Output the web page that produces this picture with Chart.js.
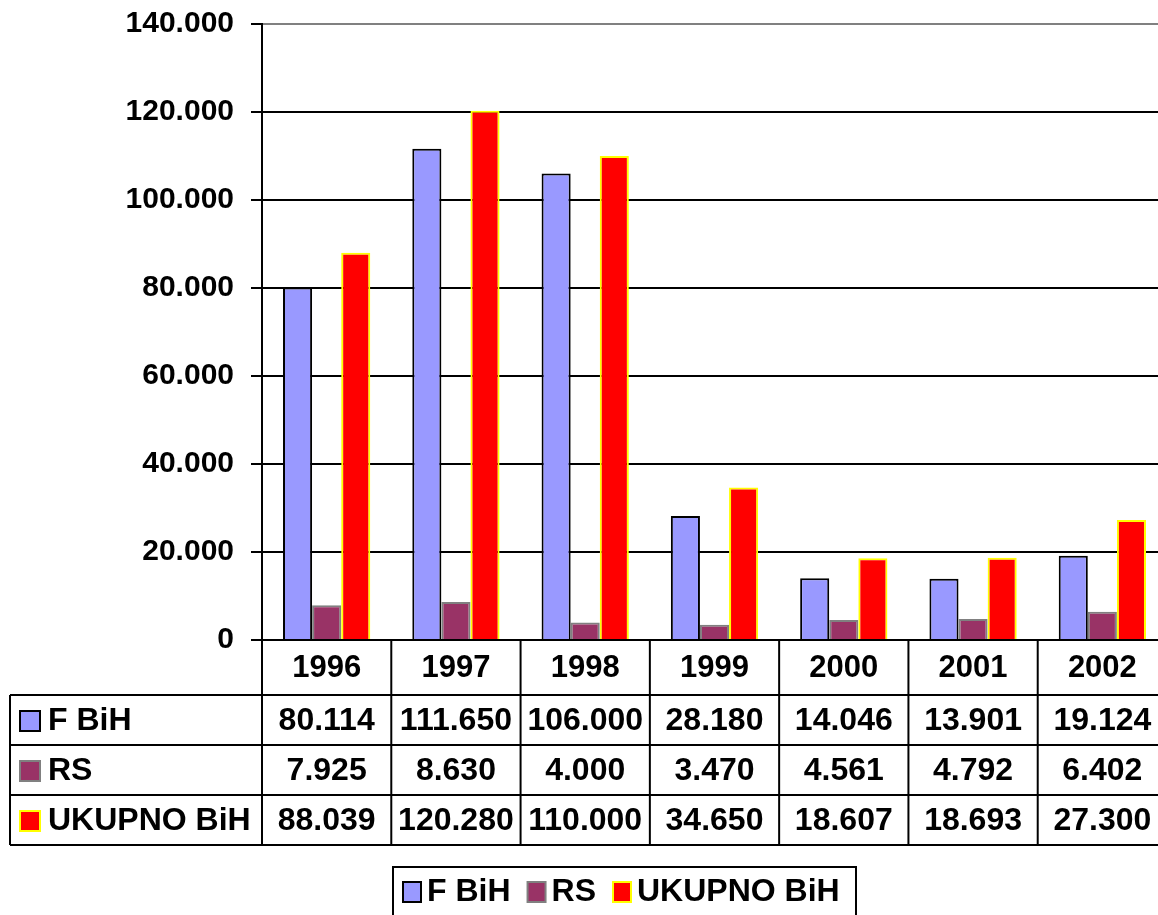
<!DOCTYPE html>
<html>
<head>
<meta charset="utf-8">
<script src="https://cdn.jsdelivr.net/npm/chart.js@4.4.1/dist/chart.umd.min.js"></script>
<style>
  html, body { margin: 0; padding: 0; background: #fff; overflow: hidden; }
  canvas { display: block; }
</style>
</head>
<body>
<canvas id="c" width="1170" height="915"></canvas>
<script>
// --- data ---
const years = ['1996', '1997', '1998', '1999', '2000', '2001', '2002'];
const fbih = [80114, 111650, 106000, 28180, 14046, 13901, 19124];
const rs = [7925, 8630, 4000, 3470, 4561, 4792, 6402];
const ukupno = [88039, 120280, 110000, 34650, 18607, 18693, 27300];
const seriesNames = ['F BiH', 'RS', 'UKUPNO BiH'];

const FONT = "'Liberation Sans', Arial, sans-serif";
const fmt = v => String(v).replace(/\B(?=(\d{3})+(?!\d))/g, '.');

// data table + legend under the plot
const tablePlugin = {
  id: 'dataTable',
  afterDraw(chart) {
    const ctx = chart.ctx;
    const x = chart.scales.x;
    const area = chart.chartArea;
    const colW = (area.right - area.left) / years.length;
    const rows = [695, 745, 795, 845];
    const right = chart.width;

    ctx.save();
    ctx.strokeStyle = '#000';
    ctx.lineWidth = 2;
    // horizontal lines
    rows.forEach(y => {
      ctx.beginPath(); ctx.moveTo(10, y); ctx.lineTo(right, y); ctx.stroke();
    });
    // left border
    ctx.beginPath(); ctx.moveTo(10, rows[0]); ctx.lineTo(10, rows[3]); ctx.stroke();
    // column lines
    for (let i = 0; i <= years.length; i++) {
      const cx = x.getPixelForValue(0) - colW / 2 + i * colW;
      ctx.beginPath(); ctx.moveTo(cx, area.bottom); ctx.lineTo(cx, rows[3]); ctx.stroke();
    }

    ctx.font = 'bold 31px ' + FONT;
    ctx.fillStyle = '#000';
    ctx.textAlign = 'center';
    ctx.textBaseline = 'middle';
    years.forEach((yr, i) => ctx.fillText(yr, x.getPixelForValue(i), 668));

    ctx.font = 'bold 32px ' + FONT;
    chart.data.datasets.forEach((ds, r) => {
      const cy = (rows[r] + rows[r + 1]) / 2 + 1;
      // key
      ctx.fillStyle = ds.backgroundColor;
      ctx.fillRect(20, cy - 10, 20, 20);
      ctx.strokeStyle = ds.borderColor;
      ctx.strokeRect(20, cy - 10, 20, 20);
      ctx.fillStyle = '#000';
      ctx.textAlign = 'left';
      ctx.fillText(ds.label, 48, cy);
      ctx.textAlign = 'center';
      ds.data.forEach((v, i) => ctx.fillText(fmt(v), x.getPixelForValue(i), cy));
    });

    // legend box
    ctx.strokeStyle = '#000';
    ctx.strokeRect(393, 867, 463, 60);
    let lx = 403;
    const ly = 892;
    chart.data.datasets.forEach(ds => {
      ctx.fillStyle = ds.backgroundColor;
      ctx.fillRect(lx, ly - 10, 18, 20);
      ctx.strokeStyle = ds.borderColor;
      ctx.strokeRect(lx, ly - 10, 18, 20);
      ctx.fillStyle = '#000';
      ctx.textAlign = 'left';
      ctx.fillText(ds.label, lx + 24, ly);
      lx += 24 + ctx.measureText(ds.label).width + 17;
    });
    ctx.restore();
  }
};

new Chart(document.getElementById('c'), {
  type: 'bar',
  data: {
    labels: years,
    datasets: [
      { label: seriesNames[0], data: fbih, backgroundColor: '#9999FF', borderColor: '#000000', borderWidth: 2 },
      { label: seriesNames[1], data: rs, backgroundColor: '#993366', borderColor: '#808080', borderWidth: 2 },
      { label: seriesNames[2], data: ukupno, backgroundColor: '#FF0000', borderColor: '#FFFF00', borderWidth: 2 }
    ]
  },
  options: {
    responsive: false,
    animation: false,
    devicePixelRatio: 1,
    layout: { padding: { left: 0, top: 24, right: 3, bottom: 275 } },
    datasets: { bar: { categoryPercentage: 0.675, barPercentage: 1.0 } },
    plugins: { legend: { display: false }, tooltip: { enabled: false } },
    scales: {
      x: { display: false },
      y: {
        min: 0, max: 140000,
        afterFit: s => { s.width = 262; s.paddingTop = 0; s.paddingBottom = 0; },
        border: { color: '#000', width: 2 },
        grid: {
          color: c => (c.tick && c.tick.value === 140000) ? '#808080' : '#000',
          tickColor: '#000', lineWidth: 2, tickLength: 11
        },
        ticks: {
          stepSize: 20000, padding: 17, color: '#000',
          font: { family: FONT, size: 30, weight: 'bold' },
          callback: v => fmt(v)
        }
      }
    }
  },
  plugins: [tablePlugin]
});
</script>
</body>
</html>
